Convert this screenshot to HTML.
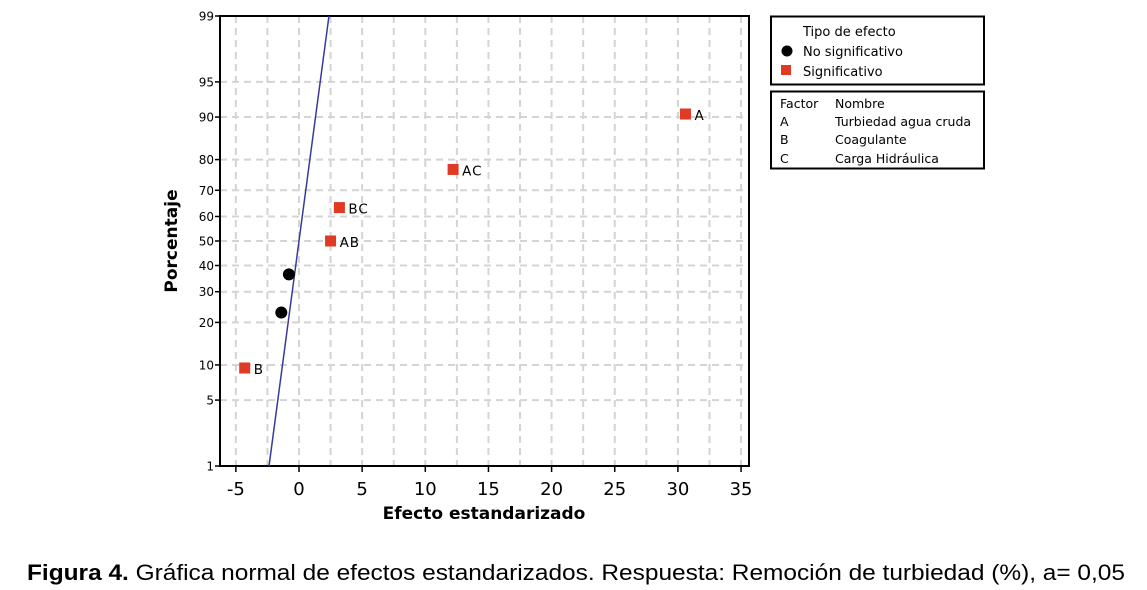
<!DOCTYPE html>
<html><head><meta charset="utf-8"><style>
body{margin:0;background:#fff;}
svg{display:block;font-family:"DejaVu Sans","Liberation Sans",sans-serif;}
</style></head><body>
<svg id="c" width="1147" height="590" viewBox="0 0 1147 590">
<g id="grid"></g>
<g id="axes"></g>
<g id="marks"></g>
<text x="177" y="241" transform="rotate(-90 177 241)" text-anchor="middle" font-weight="bold" font-size="17">Porcentaje</text>
<text x="484" y="519" text-anchor="middle" font-weight="bold" font-size="17">Efecto estandarizado</text>
<g>
<rect x="771" y="16.5" width="213" height="68" fill="none" stroke="#000" stroke-width="2"/>
<text x="803" y="36" font-size="13">Tipo de efecto</text>
<circle cx="787" cy="51" r="5.5" fill="#000"/>
<text x="803" y="56" font-size="13">No significativo</text>
<rect x="781" y="65" width="10" height="10" fill="#e03a24"/>
<text x="803" y="76" font-size="13">Significativo</text>
</g>
<g font-size="12.5">
<rect x="771" y="91.5" width="213" height="77" fill="none" stroke="#000" stroke-width="2"/>
<text x="780" y="108">Factor</text><text x="835" y="108">Nombre</text>
<text x="780" y="126">A</text><text x="835" y="126">Turbiedad agua cruda</text>
<text x="780" y="144">B</text><text x="835" y="144">Coagulante</text>
<text x="780" y="163">C</text><text x="835" y="163">Carga Hidráulica</text>
</g>
<text x="27" y="580" font-family="Liberation Sans, sans-serif" font-size="22" textLength="1098" lengthAdjust="spacingAndGlyphs"><tspan font-weight="bold">Figura 4.</tspan> Gráfica normal de efectos estandarizados. Respuesta: Remoción de turbiedad (%), a= 0,05</text>
</svg>
<script>
const effectLabels=["B","","","AB","BC","AC","A"];
const effectValues=[-4.3,-1.4,-0.8,2.5,3.2,12.2,30.6];
const effectPercents=[9.46,22.97,36.49,50,63.51,77.03,90.54];
const effectSignificant=[true,false,false,true,true,true,true];
const xTicks=[-5,0,5,10,15,20,25,30,35];
const yTicks=[1,5,10,20,30,40,50,60,70,80,90,95,99];
const lineSigma=1.02;

const NS="http://www.w3.org/2000/svg";
const L=220,R=749,T=16,B=466;
function xs(v){return 299+(v)*12.63;}
function invN(p){
 const a=[-39.6968302866538,220.946098424521,-275.928510446969,138.357751867269,-30.6647980661472,2.50662827745924];
 const b=[-54.4760987982241,161.585836858041,-155.698979859887,66.8013118877197,-13.2806815528857];
 const c=[-0.00778489400243029,-0.322396458041136,-2.40075827716184,-2.54973253934373,4.37466414146497,2.93816398269878];
 const d=[0.00778469570904146,0.32246712907004,2.445134137143,3.75440866190742];
 let q,r;
 if(p<0.02425){q=Math.sqrt(-2*Math.log(p));return (((((c[0]*q+c[1])*q+c[2])*q+c[3])*q+c[4])*q+c[5])/((((d[0]*q+d[1])*q+d[2])*q+d[3])*q+1);}
 if(p>1-0.02425){q=Math.sqrt(-2*Math.log(1-p));return -(((((c[0]*q+c[1])*q+c[2])*q+c[3])*q+c[4])*q+c[5])/((((d[0]*q+d[1])*q+d[2])*q+d[3])*q+1);}
 q=p-0.5;r=q*q;return (((((a[0]*r+a[1])*r+a[2])*r+a[3])*r+a[4])*r+a[5])*q/(((((b[0]*r+b[1])*r+b[2])*r+b[3])*r+b[4])*r+1);
}
const zMax=invN(0.99);
function ys(pct){return 241-invN(pct/100)/zMax*225;}
function mk(tag,attrs,parent){const e=document.createElementNS(NS,tag);for(const k in attrs)e.setAttribute(k,attrs[k]);parent.appendChild(e);return e;}
const grid=document.getElementById('grid'),axes=document.getElementById('axes'),marks=document.getElementById('marks');
for(let v=-5;v<=35;v+=2.5){
 const g=mk('line',{x1:xs(v),x2:xs(v),y1:T,y2:B,stroke:'#d4d4d4','stroke-width':2,'stroke-dasharray':'7,5'},grid);
 
 
}
yTicks.forEach(p=>{
 if(p==1||p==99)return;
 const g=mk('line',{x1:L,x2:R,y1:ys(p),y2:ys(p),stroke:'#d4d4d4','stroke-width':2,'stroke-dasharray':'7,5'},grid);
 
 
});
mk('rect',{x:L,y:T,width:R-L,height:B-T,fill:'none',stroke:'#000','stroke-width':2},axes);
xTicks.forEach(v=>{
 mk('line',{x1:xs(v),x2:xs(v),y1:B,y2:B+6,stroke:'#000','stroke-width':1.5},axes);
 const t=mk('text',{x:xs(v),y:B+29,'text-anchor':'middle','font-size':18},axes);t.textContent=v;
 
 
});
yTicks.forEach(p=>{
 mk('line',{x1:L-5,x2:L,y1:ys(p),y2:ys(p),stroke:'#000','stroke-width':1.5},axes);
 const t=mk('text',{x:L-6,y:ys(p)+4.5,'text-anchor':'end','font-size':12},axes);t.textContent=p;
 
 
});
const ln=mk('line',{x1:xs(-zMax*lineSigma),y1:B,x2:xs(zMax*lineSigma),y2:T,stroke:'#3a3a9a','stroke-width':1.5},marks);


effectValues.forEach((v,i)=>{
 const x=xs(v),y=ys(effectPercents[i]);
 let m;
 if(effectSignificant[i]) m=mk('rect',{x:x-5.5,y:y-5.5,width:11,height:11,fill:'#e03a24'},marks);
 else m=mk('circle',{cx:x,cy:y,r:6,fill:'#000'},marks);
 
 
 if(effectLabels[i]){
  const t=mk('text',{x:x+9,y:y+6,'font-size':13.5,'letter-spacing':'1'},marks);t.textContent=effectLabels[i];
  
  
 }
});
</script>
</body></html>
